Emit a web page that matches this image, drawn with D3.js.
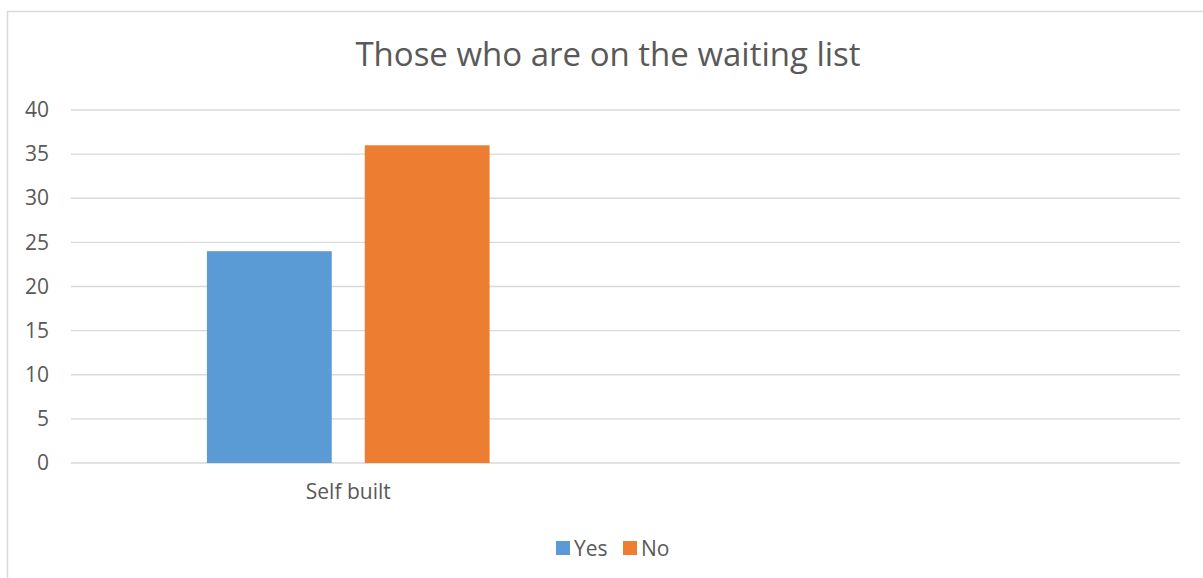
<!DOCTYPE html>
<html><head><meta charset="utf-8">
<script src="https://cdn.jsdelivr.net/npm/d3@7"></script>
<style>body{margin:0;background:#fff}svg{display:block}</style>
</head><body>
<svg id="c" width="1203" height="578"></svg>
<script>
const title = "Those who are on the waiting list";
const categories = ["Self built", ""];
const seriesNames = ["Yes", "No"];
const yesValues = [24, null];
const noValues = [36, null];
const yTicks = [0, 5, 10, 15, 20, 25, 30, 35, 40];
const colors = ["#5b9bd5", "#ed7d31"];

const svg = d3.select("#c");
const font = "'Open Sans', 'Liberation Sans', sans-serif";
const m = {left: 71, right: 1180, top: 110, bottom: 463};

svg.append("rect").attr("x", 7.5).attr("y", 11.5).attr("width", 1210).attr("height", 600)
  .attr("fill", "#fff").attr("stroke", "#d9d9d9").attr("stroke-width", 1.5);

const x = d3.scaleBand().domain(categories.map((d,i)=>i)).range([m.left, m.right]).paddingInner(0).paddingOuter(0);
const x1 = d3.scaleBand().domain(seriesNames).range([0, x.bandwidth()]).paddingInner(0.209).paddingOuter(0.861);
const y = d3.scaleLinear().domain([0, 40]).range([m.bottom, m.top]);

// gridlines
svg.append("g").selectAll("line").data(yTicks).join("line")
  .attr("x1", m.left).attr("x2", m.right)
  .attr("y1", d => y(d)).attr("y2", d => y(d))
  .attr("stroke", "#d9d9d9").attr("stroke-width", 1.3);

// y axis labels
const yAxis = d3.axisLeft(y).tickValues(yTicks).tickSize(0).tickPadding(22);
const ga = svg.append("g").attr("transform", `translate(${m.left},0)`).call(yAxis);
ga.select(".domain").remove();
ga.selectAll("text").attr("font-family", font).attr("font-size", 21).attr("fill", "#595959");

// bars
const data = [yesValues, noValues];
const g = svg.append("g");
seriesNames.forEach((s, si) => {
  g.selectAll(null).data(data[si].map((v,i)=>({v,i})).filter(d=>d.v!=null)).join("rect")
    .attr("x", d => x(d.i) + x1(s))
    .attr("width", x1.bandwidth())
    .attr("y", d => y(d.v))
    .attr("height", d => y(0) - y(d.v))
    .attr("fill", colors[si]);
});

// x axis labels
const xAxis = d3.axisBottom(x).tickFormat(i => categories[i]).tickSize(0).tickPadding(21);
const gx = svg.append("g").attr("transform", `translate(0,${m.bottom})`).call(xAxis);
gx.select(".domain").remove();
gx.selectAll("text").attr("font-family", font).attr("font-size", 21).attr("fill", "#595959");

// title
svg.append("text").attr("x", 608).attr("y", 66).attr("text-anchor", "middle")
  .attr("font-family", font).attr("font-size", 33).attr("fill", "#595959").text(title);

// legend
const leg = svg.append("g");
const legX = [556, 623];
seriesNames.forEach((s, i) => {
  leg.append("rect").attr("x", legX[i]).attr("y", 541).attr("width", 14).attr("height", 14).attr("fill", colors[i]);
  leg.append("text").attr("x", legX[i] + 18).attr("y", 556).attr("font-family", font).attr("font-size", 21)
    .attr("fill", "#595959").text(s);
});
</script>
</body></html>
